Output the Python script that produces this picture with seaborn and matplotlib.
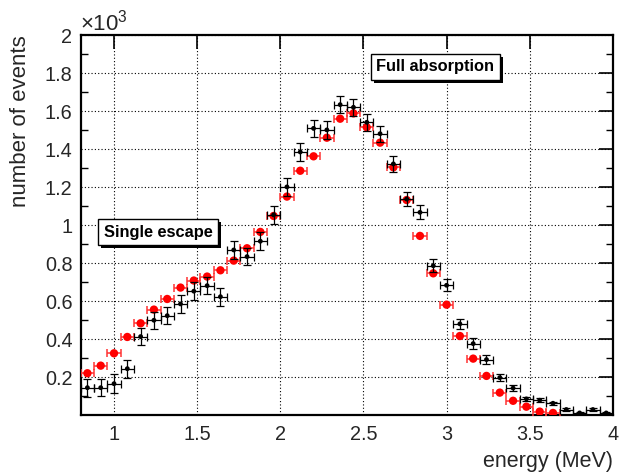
import numpy as np
import pandas as pd
import seaborn as sns
import matplotlib
matplotlib.use("Agg")
import matplotlib.pyplot as plt
import matplotlib.patheffects as pe
from matplotlib.ticker import FixedLocator, MultipleLocator, FuncFormatter

# bin centres (MeV), bin half width 0.04 MeV
energy = [0.84, 0.92, 1.00, 1.08, 1.16, 1.24, 1.32, 1.40, 1.48, 1.56,
          1.64, 1.72, 1.80, 1.88, 1.96, 2.04, 2.12, 2.20, 2.28, 2.36,
          2.44, 2.52, 2.60, 2.68, 2.76, 2.84, 2.92, 3.00, 3.08, 3.16,
          3.24, 3.32, 3.40, 3.48, 3.56, 3.64, 3.72, 3.80, 3.88, 3.96]

# measured (black) counts and errors
measured = [145, 145, 166, 245, 414, 500, 524, 586, 653, 682,
            624, 870, 835, 916, 1055, 1202, 1386, 1510, 1502, 1635,
            1621, 1542, 1482, 1323, 1138, 1068, 787, 684, 481, 377,
            293, 198, 143, 86, 79, 63, 30, 12, 30, 12]
measured_err = [48, 44, 50, 47, 46, 46, 46, 46, 46, 46,
                48, 46, 46, 46, 46, 46, 46, 46, 46, 46,
                46, 44, 42, 40, 38, 37, 33, 32, 28, 28,
                25, 19, 18, 12, 11, 9, 6, 5, 6, 5]

# simulated (red) counts
simulated = [221, 261, 326, 412, 484, 556, 612, 672, 709, 730,
             763, 814, 879, 965, 1049, 1151, 1287, 1363, 1461, 1561,
             1589, 1516, 1435, 1305, 1133, 944, 747, 582, 417, 298,
             207, 119, 76, 45, 19, 12, np.nan, np.nan, np.nan, np.nan]

half_bin = 0.04

df = pd.DataFrame({"energy": energy, "measured": measured,
                   "err": measured_err, "simulated": simulated})

sns.set_theme(style="white")
plt.rcParams["font.family"] = ["Liberation Sans", "DejaVu Sans"]
plt.rcParams["mathtext.fontset"] = "custom"
plt.rcParams["mathtext.rm"] = "Liberation Sans"

fig = plt.figure(figsize=(6.26, 4.74), dpi=100)
ax = fig.add_axes([0.129, 0.124, 0.850, 0.8015])

# red series
sim = df.dropna(subset=["simulated"])
ax.errorbar(sim["energy"], sim["simulated"], xerr=half_bin, fmt="none",
            ecolor="#ff3333", elinewidth=1.1, capsize=3, capthick=1.1, zorder=3)
sns.scatterplot(data=sim, x="energy", y="simulated", color="#ff0000", s=36,
                edgecolor="none", ax=ax, zorder=4)

# black series
ax.errorbar(df["energy"], df["measured"], xerr=half_bin, yerr=df["err"],
            fmt="none", ecolor="black", elinewidth=0.9, capsize=3,
            capthick=0.9, zorder=5)
sns.scatterplot(data=df, x="energy", y="measured", color="black", s=12,
                edgecolor="none", ax=ax, zorder=6)

ax.set_xlim(0.8, 4.0)
ax.set_ylim(0, 2000)
ax.xaxis.set_major_locator(FixedLocator([1, 1.5, 2, 2.5, 3, 3.5, 4]))
ax.xaxis.set_major_formatter(FuncFormatter(lambda v, p: f"{v:g}"))
ax.yaxis.set_major_locator(MultipleLocator(200))
ax.yaxis.set_minor_locator(MultipleLocator(100))
ax.yaxis.set_major_formatter(FuncFormatter(lambda v, p: "" if v == 0 else f"{v/1000:g}"))

ax.tick_params(axis="both", which="major", direction="in", length=10,
               width=1.2, labelsize=14.3, top=True, right=True, color="black")
ax.tick_params(axis="y", which="minor", direction="in", length=5,
               width=1.0, left=True, right=True, color="black")
ax.tick_params(axis="x", which="major", pad=7)
ax.tick_params(axis="y", which="major", pad=6)
for s in ax.spines.values():
    s.set_color("black")
    s.set_linewidth(1.6)

ax.grid(True, which="major", color="black", linestyle=(0, (1, 2)), linewidth=0.8)
ax.set_axisbelow(True)
ax.set_xlabel("")
ax.set_ylabel("")

fig.text(0.979, 1 - 461 / 474, "energy (MeV)", ha="right", va="center", fontsize=15.5)
fig.text(0.032, 0.925, "number of events", ha="center", va="top",
         rotation=90, fontsize=16)
fig.text(0.127, 0.926, r"$\times10^{3}$", ha="left", va="bottom", fontsize=16)

# labelled boxes with a drop shadow
def shadow_box(x, y, label):
    t = ax.text(x, y, label, transform=ax.transAxes, ha="center", va="center",
                fontsize=11.8, fontweight="bold", color="black", zorder=10,
                bbox=dict(boxstyle="square,pad=0.33", fc="white", ec="black", lw=1))
    t.get_bbox_patch().set_path_effects([
        pe.SimplePatchShadow(offset=(2.3, -2.3), shadow_rgbFace="black", alpha=1.0),
        pe.Normal()])

shadow_box(0.145, 0.482, "Single escape")
shadow_box(0.666, 0.917, "Full absorption")

plt.savefig("out.png", dpi=100)
